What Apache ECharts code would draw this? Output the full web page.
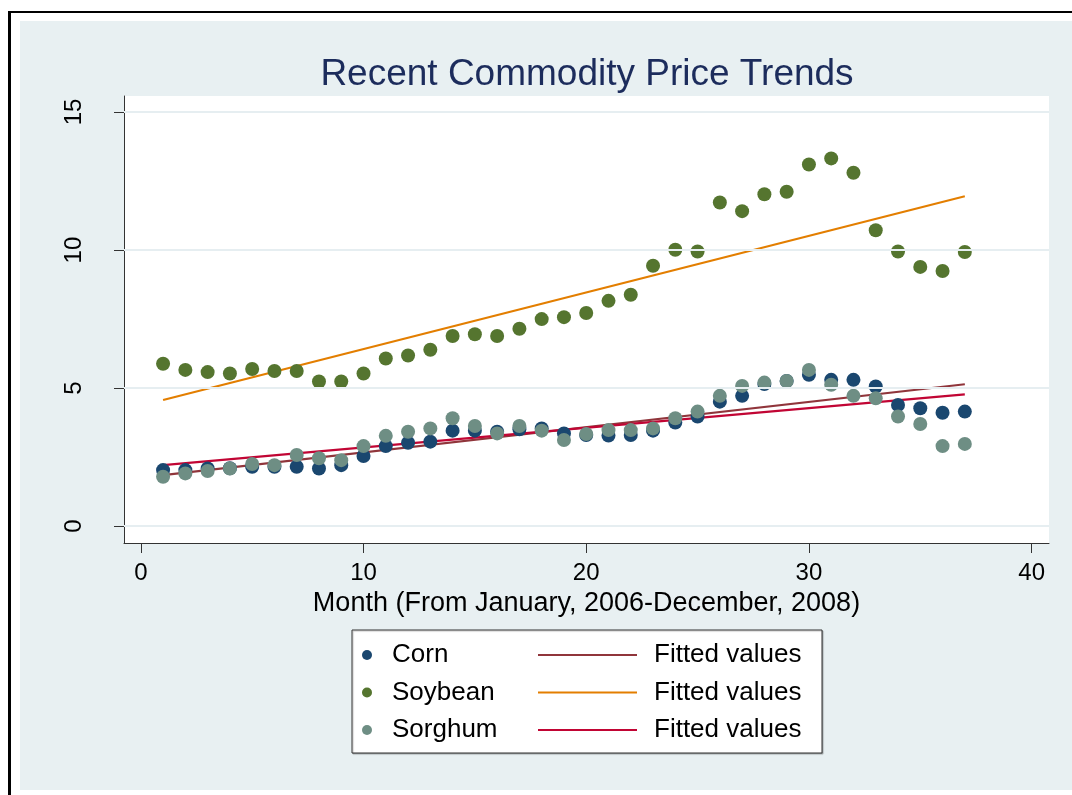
<!DOCTYPE html>
<html>
<head>
<meta charset="UTF-8">
<script src="https://cdn.jsdelivr.net/npm/echarts@6/dist/echarts.min.js"></script>
<style>
  body { margin: 0; background: #ffffff; }
  #wrap { position: relative; width: 1072px; height: 795px; overflow: hidden; }
  #lineTop { position: absolute; left: 8px; top: 11px; width: 1064px; height: 2px; background: #000; }
  #lineLeft { position: absolute; left: 8px; top: 11px; width: 3px; height: 784px; background: #000; }
  #region { position: absolute; left: 20px; top: 21px; width: 1052px; height: 769px; background: #e8f0f2; }
  #c { position: absolute; left: 0; top: 0; width: 1072px; height: 795px; }
</style>
</head>
<body>
<div id="wrap">
  <div id="lineTop"></div>
  <div id="lineLeft"></div>
  <div id="region"></div>
  <div id="c"></div>
</div>
<script>
// months 1..37 (Jan 2006 - Jan 2009)
const months = [1,2,3,4,5,6,7,8,9,10,11,12,13,14,15,16,17,18,19,20,21,22,23,24,25,26,27,28,29,30,31,32,33,34,35,36,37];

// prices
const corn = [2.03,2.03,2.09,2.10,2.15,2.15,2.15,2.09,2.21,2.54,2.90,3.02,3.06,3.46,3.46,3.42,3.51,3.54,3.36,3.30,
              3.28,3.30,3.46,3.75,3.97,4.51,4.72,5.15,5.26,5.48,5.30,5.30,5.06,4.39,4.27,4.11,4.15];
const soybean = [5.88,5.66,5.58,5.53,5.69,5.62,5.62,5.24,5.24,5.53,6.07,6.18,6.39,6.89,6.95,6.89,7.15,7.50,7.57,7.72,
                 8.16,8.38,9.43,10.01,9.95,11.72,11.41,12.02,12.11,13.10,13.32,12.80,10.72,9.95,9.39,9.24,9.93];
const sorghum = [1.79,1.91,2.00,2.09,2.25,2.21,2.58,2.46,2.39,2.90,3.27,3.42,3.54,3.91,3.63,3.36,3.63,3.46,3.12,3.34,
                 3.48,3.48,3.54,3.91,4.15,4.72,5.08,5.20,5.26,5.66,5.12,4.72,4.63,3.97,3.70,2.90,2.98];

// fitted line end points (month 1 and month 37)
const fitMonths = [1, 37];
const cornFit = [1.85, 5.14];
const soybeanFit = [4.57, 11.95];
const sorghumFit = [2.21, 4.77];

const xTicks = [0, 10, 20, 30, 40];
const yTicks = [0, 5, 10, 15];

const FONT = "'Liberation Sans', Arial, sans-serif";

const pairs = (xs, ys) => xs.map((x, i) => [x, ys[i]]);

const chart = echarts.init(document.getElementById('c'), null, { renderer: 'canvas' });

chart.setOption({
  backgroundColor: 'transparent',
  animation: false,
  title: {
    text: 'Recent Commodity Price Trends',
    left: 587,
    top: 56,
    textAlign: 'center',
    padding: 0,
    textStyle: { fontFamily: FONT, fontSize: 37, fontWeight: 'normal', color: '#1c2c5c' }
  },
  grid: {
    left: 124, top: 96, right: 23, bottom: 252,
    show: true, backgroundColor: '#ffffff', borderWidth: 0
  },
  graphic: [{
    type: 'rect',
    shape: { x: 352, y: 630, width: 470, height: 123 },
    style: { fill: '#ffffff', stroke: '#333333', lineWidth: 1, shadowColor: 'rgba(0,0,0,0.25)', shadowOffsetX: 1, shadowOffsetY: 1, shadowBlur: 1 },
    z: 1
  }],
  legend: [{
    data: ['Corn', 'Soybean', 'Sorghum'],
    orient: 'vertical',
    left: 362, top: 642,
    padding: 0,
    itemWidth: 10, itemHeight: 10, itemGap: 11.5,
    selectedMode: false,
    textStyle: { fontFamily: FONT, fontSize: 26, lineHeight: 26, color: '#000', padding: [0, 0, 0, 15] }
  }, {
    data: [
      { name: 'Corn fit', icon: 'rect' },
      { name: 'Soybean fit', icon: 'rect' },
      { name: 'Sorghum fit', icon: 'rect' }
    ],
    orient: 'vertical',
    left: 538, top: 642,
    padding: 0,
    itemWidth: 99, itemHeight: 2.2, itemGap: 11.5,
    selectedMode: false,
    formatter: () => 'Fitted values',
    textStyle: { fontFamily: FONT, fontSize: 26, lineHeight: 26, color: '#000', padding: [0, 0, 0, 12] }
  }],
  xAxis: {
    type: 'value',
    min: -0.755, max: 40.78,
    name: 'Month (From January, 2006-December, 2008)',
    nameLocation: 'middle',
    nameGap: 45,
    nameTextStyle: { fontFamily: FONT, fontSize: 27, color: '#000' },
    axisLine: { show: true, onZero: false, lineStyle: { color: '#333', width: 1 } },
    axisTick: { show: true, length: 10, customValues: xTicks, lineStyle: { color: '#333' } },
    axisLabel: { customValues: xTicks, margin: 18, fontFamily: FONT, fontSize: 24, color: '#000' },
    splitLine: { show: false }
  },
  yAxis: {
    type: 'value',
    min: -0.61, max: 15.58,
    axisLine: { show: true, onZero: false, lineStyle: { color: '#333', width: 1 } },
    axisTick: { show: true, length: 10, customValues: yTicks, lineStyle: { color: '#333' } },
    axisLabel: { customValues: yTicks, rotate: 90, margin: 38, fontFamily: FONT, fontSize: 24, color: '#000' },
    splitLine: { show: false }
  },
  series: [
    {
      // gridlines
      name: 'grid', type: 'line', data: [], z: 1, silent: true,
      markLine: {
        silent: true, symbol: ['none', 'none'], label: { show: false },
        lineStyle: { color: '#e6eef1', width: 2, type: 'solid' },
        data: yTicks.map(v => ({ yAxis: v }))
      }
    },
    { name: 'Corn', type: 'scatter', data: pairs(months, corn), symbolSize: 14, itemStyle: { color: '#1a476f', opacity: 1 }, z: 2 },
    { name: 'Corn fit', type: 'line', data: pairs(fitMonths, cornFit), symbol: 'none', lineStyle: { color: '#90353b', width: 2.2 }, itemStyle: { color: '#90353b' }, z: 2 },
    { name: 'Soybean', type: 'scatter', data: pairs(months, soybean), symbolSize: 14, itemStyle: { color: '#55752f', opacity: 1 }, z: 2 },
    { name: 'Soybean fit', type: 'line', data: pairs(fitMonths, soybeanFit), symbol: 'none', lineStyle: { color: '#e37e00', width: 2.2 }, itemStyle: { color: '#e37e00' }, z: 2 },
    { name: 'Sorghum', type: 'scatter', data: pairs(months, sorghum), symbolSize: 14, itemStyle: { color: '#6e8e84', opacity: 1 }, z: 2 },
    { name: 'Sorghum fit', type: 'line', data: pairs(fitMonths, sorghumFit), symbol: 'none', lineStyle: { color: '#c10534', width: 2.2 }, itemStyle: { color: '#c10534' }, z: 2 }
  ]
});
</script>
</body>
</html>
